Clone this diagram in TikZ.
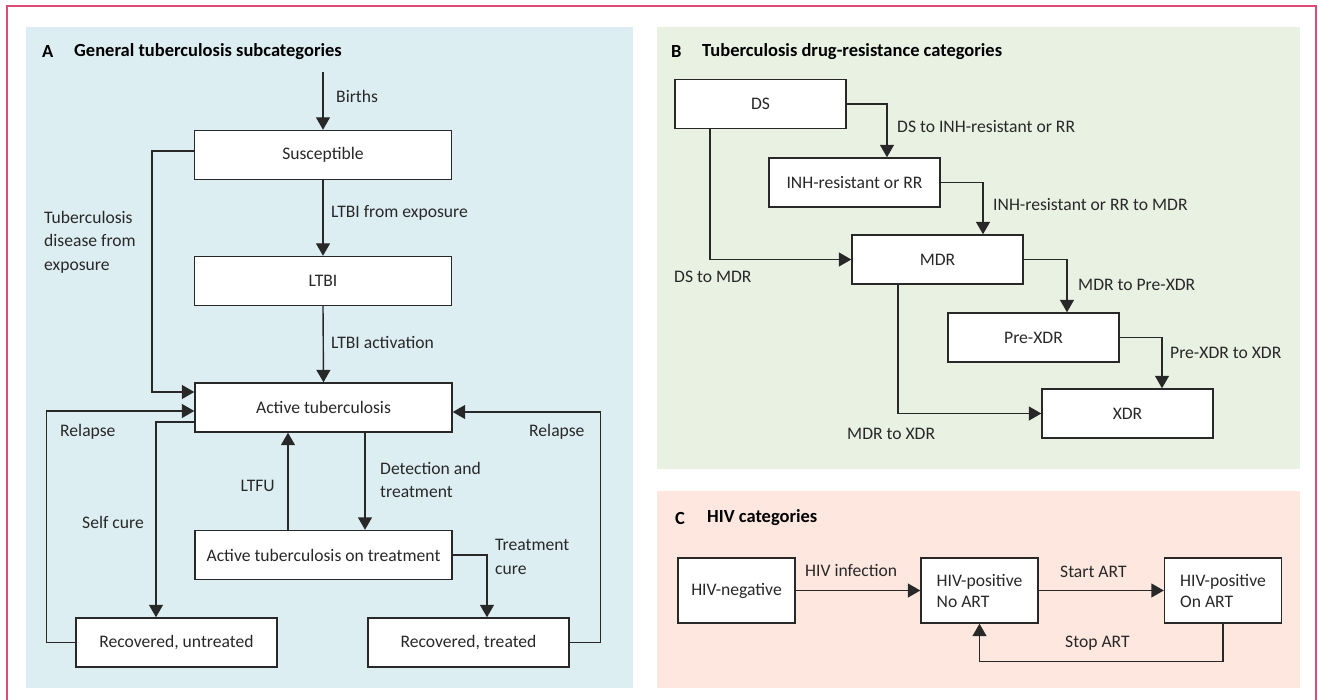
\documentclass[tikz,border=0pt]{standalone}
\usepackage{fontspec}
\setmainfont{Carlito}
\usetikzlibrary{arrows.meta}
\definecolor{bgA}{RGB}{221,238,243}
\definecolor{bgB}{RGB}{233,241,227}
\definecolor{bgC}{RGB}{253,231,222}
\definecolor{frame}{RGB}{222,76,118}
\definecolor{ink}{RGB}{40,40,40}
\tikzset{
  panel/.style={draw=none},
  bx/.style={draw=ink, fill=white, line width=1.4pt, inner sep=0pt, text=ink,
    font=\fontsize{17.6}{21}\selectfont},
  bxA/.style={bx, minimum width=257pt, minimum height=49pt},
  bxR/.style={bx, minimum width=201pt, minimum height=49pt},
  bxB/.style={bx, minimum width=171pt, minimum height=49pt},
  bxC/.style={bx, minimum width=117pt, minimum height=65pt, align=left},
  lbl/.style={text=ink, inner sep=0pt, anchor=west, align=left,
    font=\fontsize{17.6}{23.5}\selectfont},
  ttl/.style={text=black, inner sep=0pt, anchor=west,
    font=\bfseries\fontsize{18.5}{22}\selectfont},
  arr/.style={draw=ink, line width=1.4pt, -{Triangle[width=14pt,length=12.5pt]}},
}
\begin{document}
\begin{tikzpicture}[x=1pt,y=-1pt]
\useasboundingbox (0,0) rectangle (1318,700);
\fill[white] (0,0) rectangle (1318,700);
% frame
\draw[frame, line width=1.6pt] (7,702) -- (7,6) -- (1316,6) -- (1316,702);
% panels
\fill[bgA] (26,27) rectangle (633,688);
\fill[bgB] (657,27) rectangle (1300,469);
\fill[bgC] (657,491) rectangle (1300,688);
% titles
\node[ttl] (tA) at (42,52) {A};
\node[ttl] (tA2) at (74,52) {General tuberculosis subcategories};
\node[ttl] (tB) at (671,52) {B};
\node[ttl] (tB2) at (702,52) {Tuberculosis drug-resistance categories};
\node[ttl] (tC) at (675,518) {C};
\node[ttl] (tC2) at (707,518) {HIV categories};

% ---------- Panel A ----------
\node[bxA] (susc) at (323,155) {Susceptible};
\node[bxA] (ltbi) at (323,281) {LTBI};
\node[bxA] (active) at (323.5,407.5) {Active tuberculosis};
\node[bxA] (ontreat) at (323.5,555) {Active tuberculosis on treatment};
\node[bxR] (recun) at (176.5,642.5) {Recovered, untreated};
\node[bxR] (rectr) at (468.5,642.5) {Recovered, treated};
\coordinate (birth) at (323,72);

\draw[arr] (birth) -- (susc.north);
\draw[arr] (susc.south) -- (ltbi.north);
\draw[arr] (ltbi.south) -- (active.north);
\draw[arr] ([yshift=4pt]susc.west) -- ++(-42,0) |- ([yshift=15.5pt]active.west);
\draw[arr] (recun.west) -- ++(-29,0) |- ([yshift=-3.5pt]active.west);
\draw[arr] ([yshift=-14.5pt]active.west) -| ([xshift=-20.5pt]recun.north);
\draw[arr] ([xshift=-35.5pt]ontreat.north) -- ([xshift=-35.5pt]active.south);
\draw[arr] ([xshift=41.5pt]active.south) -- ([xshift=41.5pt]ontreat.north);
\draw[arr] (ontreat.east) -| ([xshift=18.5pt]rectr.north);
\draw[arr] (rectr.east) -- ++(31,0) |- ([yshift=-4.5pt]active.east);

\node[lbl] (lBirths) at (336,96) {Births};
\node[lbl] (lLTBIexp) at (331,213) {LTBI from exposure};
\node[lbl] (lLTBIact) at (331,342) {LTBI activation};
\node[lbl] (lTBexp) at (44,242) {Tuberculosis\\disease from\\exposure};
\node[lbl] (lRelL) at (60,432) {Relapse};
\node[lbl] (lSelf) at (82,522) {Self cure};
\node[lbl, anchor=east] (lLTFU) at (275,486) {LTFU};
\node[lbl] (lDet) at (380,480) {Detection and\\treatment};
\node[lbl] (lTrC) at (495,557) {Treatment\\cure};
\node[lbl] (lRelR) at (529,432) {Relapse};

% ---------- Panel B ----------
\node[bxB] (ds) at (760.5,104) {DS};
\node[bxB] (inh) at (854.5,182.5) {INH-resistant or RR};
\node[bxB] (mdr) at (937.5,259.5) {MDR};
\node[bxB] (prexdr) at (1033.5,337.5) {Pre-XDR};
\node[bxB] (xdr) at (1127.5,413.5) {XDR};

\draw[arr] (ds.east) -| ([xshift=32.5pt]inh.north);
\draw[arr] (inh.east) -| ([xshift=45.5pt]mdr.north);
\draw[arr] ([xshift=-50.5pt]ds.south) |- (mdr.west);
\draw[arr] (mdr.east) -| ([xshift=33.5pt]prexdr.north);
\draw[arr] (prexdr.east) -| ([xshift=34.5pt]xdr.north);
\draw[arr] ([xshift=-39.5pt]mdr.south) |- (xdr.west);

\node[lbl] (lDSINH) at (897,127) {DS to INH-resistant or RR};
\node[lbl] (lINHMDR) at (993,205) {INH-resistant or RR to MDR};
\node[lbl] (lDSMDR) at (674,277) {DS to MDR};
\node[lbl] (lMDRPre) at (1078,285) {MDR to Pre-XDR};
\node[lbl] (lPreXDR) at (1170,353) {Pre-XDR to XDR};
\node[lbl] (lMDRXDR) at (847,434) {MDR to XDR};

% ---------- Panel C ----------
\node[bxC] (hivneg) at (736.5,590.5) {HIV-negative};
\node[bxC] (hivpos) at (979.5,590.5) {HIV-positive\\No ART};
\node[bxC] (onart) at (1223,590.5) {HIV-positive\\On ART};

\draw[arr] (hivneg.east) -- (hivpos.west);
\draw[arr] (hivpos.east) -- (onart.west);
\draw[arr] (onart.south) -- ++(0,38) -| (hivpos.south);

\node[lbl] (lInf) at (805,570) {HIV infection};
\node[lbl] (lStart) at (1060,572) {Start ART};
\node[lbl] (lStop) at (1065,643) {Stop ART};
\end{tikzpicture}
\end{document}
